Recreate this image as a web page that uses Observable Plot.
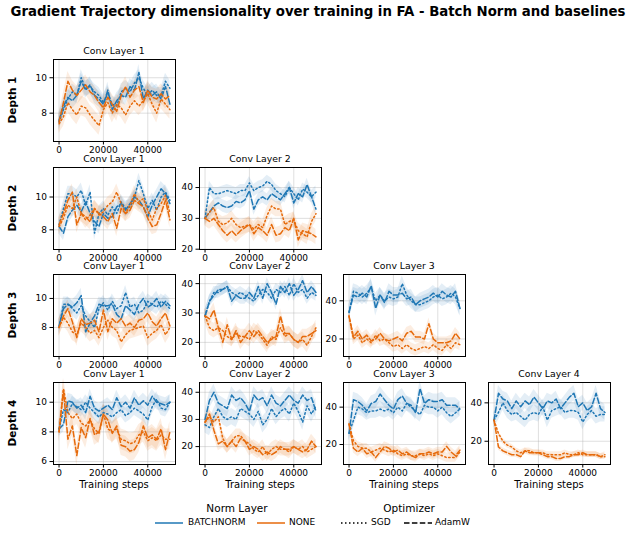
<!DOCTYPE html>
<html><head><meta charset="utf-8">
<script src="https://cdn.jsdelivr.net/npm/d3@7"></script>
<script src="https://cdn.jsdelivr.net/npm/@observablehq/plot@0.6"></script>
<style>
body{margin:0;background:#fff;font-family:"DejaVu Sans",sans-serif;}
#root{position:relative;width:636px;height:533px;overflow:hidden;}
.abs{position:absolute;white-space:nowrap;color:#000;}
.ptitle{font-size:9.3px;transform:translateX(-50%);}
.rlabel{font-size:10.5px;font-weight:bold;transform:translate(-50%,-50%) rotate(-90deg);}
</style></head>
<body><div id="root"></div>
<script>
// ---------- data ----------
const steps = [0,2000,4000,6000,8000,10000,12000,14000,16000,18000,20000,22000,24000,26000,28000,30000,32000,34000,36000,38000,40000,42000,44000,46000,48000,50000];
const normLayers = ["BATCHNORM","NONE"];
const optimizers = ["SGD","AdamW"];
const depthLabels = ["Depth 1","Depth 2","Depth 3","Depth 4"];
const layerLabels = ["Conv Layer 1","Conv Layer 2","Conv Layer 3","Conv Layer 4"];

// Depth 1 / Conv Layer 1
const d1l1_bn_sgd   = [7.5,8.2,8.8,9.2,9.0,10.0,9.4,9.5,9.2,9.0,8.6,9.1,8.5,8.4,9.2,9.4,9.2,9.7,10.0,9.4,9.0,9.3,9.0,9.0,9.8,9.4];
const d1l1_bn_adam  = [7.6,8.4,8.9,8.7,9.0,9.8,9.3,9.6,9.0,8.8,8.5,9.3,8.2,8.7,9.0,8.9,9.5,9.3,10.3,8.8,9.3,9.0,9.2,8.8,9.5,8.5];
const d1l1_no_sgd   = [7.4,7.8,8.6,8.2,7.9,8.4,8.3,7.9,7.6,7.3,8.2,8.6,8.0,8.5,8.3,7.9,8.4,8.7,8.4,8.7,9.1,8.5,8.0,8.8,8.5,8.2];
const d1l1_no_adam  = [7.5,8.6,9.8,9.3,9.0,9.3,9.6,9.2,9.0,8.6,8.3,8.9,8.5,8.1,9.0,9.5,8.9,9.3,9.5,8.6,9.3,8.9,8.8,9.1,8.8,9.0];
const d1l1_spread   = [0.45,0.45,0.55,0.55];

// Depth 2 / Conv Layer 1
const d2l1_bn_sgd   = [8.3,9.3,10.2,10.2,10.0,10.4,9.5,10.3,7.8,9.0,9.3,8.9,9.4,9.0,9.7,9.3,9.4,10.0,11.0,10.2,9.3,9.8,9.2,10.0,10.3,9.8];
const d2l1_bn_adam  = [8.2,7.8,8.8,9.2,9.5,9.1,9.7,9.0,8.5,8.2,9.0,8.7,8.8,9.4,9.6,9.2,9.6,10.0,9.8,9.4,8.8,9.5,10.0,10.5,10.2,9.6];
const d2l1_no_sgd   = [8.2,8.7,9.5,9.3,10.0,9.0,8.6,8.9,9.3,8.9,9.1,9.5,9.7,10.3,9.6,9.0,9.5,10.2,9.7,9.9,9.2,8.6,9.3,9.6,10.1,9.0];
const d2l1_no_adam  = [8.3,9.0,9.8,10.3,8.3,9.0,8.8,8.5,9.3,9.0,8.8,8.5,9.0,8.1,9.3,9.0,9.2,9.8,9.6,9.4,8.7,8.2,8.3,9.0,9.8,8.6];
const d2l1_spread   = [0.45,0.45,0.5,0.5];

// Depth 2 / Conv Layer 2
const d2l2_bn_sgd   = [30,40,38,38,38.5,39,38.5,38,39,39,41.5,39,40,40.5,42,41,39,38,37,40,38,36,39.5,38.5,37,38.5];
const d2l2_bn_adam  = [30,32,34,35,34,33.5,34,35.5,35,36,39,33,36,37,36,38,37,36,38,40,35,38,37,41,37,33];
const d2l2_no_sgd   = [30,32,33.5,29,28,28.5,30,28,27,27.5,28,26.5,28,27,31,34,33,33,28,29,29.5,26,25,24,29,31.5];
const d2l2_no_adam  = [30,29,30,28,26,24.5,26,24.5,26,27,28,25,27,26,24.5,28,24.5,25,27,26,30,23,26,25.5,25,24];
const d2l2_spread   = [2,2,2.5,2.5];

// Depth 3 / Conv Layer 1
const d3l1_bn_sgd   = [8.0,9.6,9.6,9.3,9.0,9.5,8.8,8.4,8.0,9.3,9.7,9.2,9.8,9.3,9.5,10.4,9.4,9.6,9.0,9.2,9.8,9.6,9.4,9.8,9.6,9.3];
const d3l1_bn_adam  = [8.1,9.3,9.6,9.4,9.7,10.2,7.7,8.3,8.8,9.6,9.5,9.5,9.6,8.9,8.6,9.5,9.2,8.9,9.6,10.0,9.4,9.6,10.0,9.4,9.8,9.5];
const d3l1_no_sgd   = [8.0,8.7,8.3,7.7,7.5,8.3,8.0,7.6,7.8,7.3,8.0,8.5,8.0,7.8,7.0,7.5,7.8,7.9,8.0,8.1,7.3,7.6,7.8,8.2,7.5,8.0];
const d3l1_no_adam  = [8.0,8.8,9.3,8.4,7.3,8.6,8.2,8.3,8.5,7.7,9.2,7.7,8.6,8.3,8.6,8.1,8.3,8.0,8.5,8.6,9.0,8.4,8.1,8.6,9.0,8.1];
const d3l1_spread   = [0.5,0.5,0.6,0.6];

// Depth 3 / Conv Layer 2
const d3l2_bn_sgd   = [29,34,37,37,38,39,37,36,37,36,35,34,36,38,37,35,38,37,39,36,40,37,38,35,37,36];
const d3l2_bn_adam  = [29,34,36,38,38,39,34,36,35,35,37,35,39,35,40,37,33,39,37,40,36,38,41,37,39,37];
const d3l2_no_sgd   = [29,25,24,25,24,22,21,23,22,22,21,24,23,21,19,22,21,25,22,23,21,20,21,19,22,25];
const d3l2_no_adam  = [29,28,31,25,20,26,21,24,20,22,24,22,24,22,20,21,22,29,23,23,21,20,22,22,23,24];
const d3l2_spread   = [2,2,2.5,2.5];

// Depth 3 / Conv Layer 3
const d3l3_bn_sgd   = [34,45,44,42,44,47,40,43,40,42,41,42,49,43,40,38,38,39,40,42,43,41,42,44,42,36];
const d3l3_bn_adam  = [34,43,42,44,42,48,36,43,39,45,43,43,44,41,42,38,40,41,42,44,42,45,43,42,45,36];
const d3l3_no_sgd   = [32,20,22,18,20,18,22,19,20,18,16,17,15,17,15,14,15,16,15,17,15,14,17,15,18,17];
const d3l3_no_adam  = [32,21,24,20,22,19,20,23,20,19,20,21,19,23,24,21,21,20,28,20,18,18,18,19,23,20];
const d3l3_spread   = [4,4,3,3];

// Depth 4 / Conv Layer 1
const d4l1_bn_sgd   = [8.2,9.5,9.3,9.9,9.7,9.5,10.0,9.6,9.3,9.0,9.3,9.2,9.0,9.3,9.5,9.1,9.3,9.6,9.4,9.2,8.8,9.7,10.2,9.6,9.5,10.0];
const d4l1_bn_adam  = [8.2,8.5,10.1,10.0,9.6,9.8,9.3,10.4,9.6,9.4,9.6,9.8,9.5,10.3,9.7,10.0,9.6,10.3,9.8,10.1,9.8,10.4,10.0,9.9,9.8,10.0];
const d4l1_no_sgd   = [8.0,10.9,9.3,8.9,9.2,8.6,8.4,8.8,8.2,7.9,9.2,8.2,8.0,8.2,7.5,7.4,7.2,7.3,7.8,8.0,7.4,7.6,7.4,7.8,7.5,7.5];
const d4l1_no_adam  = [8.0,10.8,7.5,8.4,6.4,8.3,7.6,8.9,7.8,8.0,9.2,8.8,7.9,8.4,7.1,7.0,6.7,6.8,7.3,8.4,7.6,7.8,7.5,8.2,6.8,8.0];
const d4l1_spread   = [0.5,0.5,0.7,0.7];

// Depth 4 / Conv Layer 2
const d4l2_bn_sgd   = [28,27,31,34,31,30,31,30,34,33,32,30,33,28,30,34,31,33,34,32,36,33,29,35,32,35];
const d4l2_bn_adam  = [30,37,40,36,35,34,39,37,38,36,33,39,37,38,35,39,36,35,37,39,37,36,39,37,38,33];
const d4l2_no_sgd   = [29,31,29,31,23,20,22,24,24,22,21,19,18,20,17,19,20,19,19,18,20,19,20,18,19,20];
const d4l2_no_adam  = [29,32,26,21,22,20,22,20,23,22,19,20,19,17,18,17,18,20,19,19,20,19,18,19,22,20];
const d4l2_spread   = [3,3,2.5,2.5];

// Depth 4 / Conv Layer 3
const d4l3_bn_sgd   = [26,33,40,39,37,38,38,39,38,39,37,40,38,42,40,38,36,41,40,40,38,40,37,35,37,39];
const d4l3_bn_adam  = [26,44,43,41,38,42,43,47,44,41,39,44,46,42,41,37,50,42,44,43,43,44,41,41,41,39];
const d4l3_no_sgd   = [31,22,19,18,18,16,17,18,17,16,17,15,14,15,14,14,15,14,15,14,15,14,13,13,13,16];
const d4l3_no_adam  = [31,18,16,18,15,16,13,16,19,18,16,17,15,16,14,13,15,15,16,15,16,16,19,16,14,17];
const d4l3_spread   = [4,4,2.5,2.5];

// Depth 4 / Conv Layer 4
const d4l4_bn_sgd   = [31,35,40,36,34,35,33,31,34,35,34,38,31,36,37,38,35,36,36,35,30,34,36,33,34,34];
const d4l4_bn_adam  = [31,45,42,41,37,41,38,41,39,43,40,37,41,40,42,37,40,43,45,38,40,36,38,45,37,35];
const d4l4_no_sgd   = [31,24,20,18,17,15,14,15,15,14,14,14,13,13,13,13,14,13,13,14,13,13,13,13,12,13];
const d4l4_no_adam  = [31,17,15,14,13,13,12,15,14,14,14,13,12,12,11,11,12,12,13,13,14,13,13,13,12,12];
const d4l4_spread   = [4,4,1.5,1.5];

// ---------- layout ----------
const colors = {BATCHNORM:"#1f77b4", NONE:"#e66a0b"};
const dashes = {SGD:"1.5,2.5", AdamW:"5.5,2.4"};
const colLeft = [53,199,343,488];
const rowTop = [59,167,274,382];
const FW = 122, FH = 82;
const ML = 30, MR = 4, MT = 4, MB = 22;

const panels = [
  {r:0,c:0,series:[d1l1_bn_sgd,d1l1_bn_adam,d1l1_no_sgd,d1l1_no_adam],spread:d1l1_spread,dom:[6.4,11.03],ticks:[8,10]},
  {r:1,c:0,series:[d2l1_bn_sgd,d2l1_bn_adam,d2l1_no_sgd,d2l1_no_adam],spread:d2l1_spread,dom:[6.8,11.8],ticks:[8,10]},
  {r:1,c:1,series:[d2l2_bn_sgd,d2l2_bn_adam,d2l2_no_sgd,d2l2_no_adam],spread:d2l2_spread,dom:[19.9,46.5],ticks:[20,30,40]},
  {r:2,c:0,series:[d3l1_bn_sgd,d3l1_bn_adam,d3l1_no_sgd,d3l1_no_adam],spread:d3l1_spread,dom:[6.0,11.65],ticks:[8,10]},
  {r:2,c:1,series:[d3l2_bn_sgd,d3l2_bn_adam,d3l2_no_sgd,d3l2_no_adam],spread:d3l2_spread,dom:[15.2,43.1],ticks:[20,30,40]},
  {r:2,c:2,series:[d3l3_bn_sgd,d3l3_bn_adam,d3l3_no_sgd,d3l3_no_adam],spread:d3l3_spread,dom:[10.8,53.8],ticks:[20,40]},
  {r:3,c:0,series:[d4l1_bn_sgd,d4l1_bn_adam,d4l1_no_sgd,d4l1_no_adam],spread:d4l1_spread,dom:[5.8,11.33],ticks:[6,8,10]},
  {r:3,c:1,series:[d4l2_bn_sgd,d4l2_bn_adam,d4l2_no_sgd,d4l2_no_adam],spread:d4l2_spread,dom:[13.4,43.6],ticks:[20,30,40]},
  {r:3,c:2,series:[d4l3_bn_sgd,d4l3_bn_adam,d4l3_no_sgd,d4l3_no_adam],spread:d4l3_spread,dom:[9.3,53.2],ticks:[20,40]},
  {r:3,c:3,series:[d4l4_bn_sgd,d4l4_bn_adam,d4l4_no_sgd,d4l4_no_adam],spread:d4l4_spread,dom:[7.9,50.6],ticks:[20,40]},
];
const keys = [["BATCHNORM","SGD"],["BATCHNORM","AdamW"],["NONE","SGD"],["NONE","AdamW"]];

const root = document.getElementById("root");
function addText(txt, x, y, cls, style){
  const d = document.createElement("div");
  d.className = "abs " + (cls||"");
  d.textContent = txt;
  d.style.left = x+"px"; d.style.top = y+"px";
  if (style) Object.assign(d.style, style);
  root.appendChild(d);
  return d;
}

// title
addText("Gradient Trajectory dimensionality over training in FA - Batch Norm and baselines", 318, 4, "", {fontSize:"13.3px",fontWeight:"bold",transform:"translateX(-50%)"});

for (const p of panels){
  const rows = [];
  p.series.forEach((arr,i)=>{
    const [norm,opt] = keys[i];
    arr.forEach((v,j)=>rows.push({x:steps[j], y:v, lo:v-p.spread[i], hi:v+p.spread[i], norm, opt}));
  });
  const marks = [
    Plot.gridX([0,20000,40000], {stroke:"#b0b0b0", strokeOpacity:0.5, strokeWidth:0.8}),
    Plot.gridY(p.ticks, {stroke:"#b0b0b0", strokeOpacity:0.5, strokeWidth:0.8}),
  ];
  for (const [norm,opt] of keys){
    const sub = rows.filter(d=>d.norm===norm && d.opt===opt);
    marks.push(Plot.areaY(sub, {x:"x", y1:"lo", y2:"hi", fill:colors[norm], fillOpacity:0.12}));
  }
  for (const [norm,opt] of keys){
    const sub = rows.filter(d=>d.norm===norm && d.opt===opt);
    marks.push(Plot.lineY(sub, {x:"x", y:"y", stroke:colors[norm], strokeWidth:1.5, strokeDasharray:dashes[opt]}));
  }
  marks.push(Plot.axisX({ticks:[0,20000,40000], tickFormat:d3.format("d"), tickSize:3.5, tickPadding:2, label:null, fontSize:9}));
  marks.push(Plot.axisY({ticks:p.ticks, tickFormat:d3.format("d"), tickSize:3.5, tickPadding:3, label:null, fontSize:9}));
  marks.push(Plot.frame({stroke:"#000", strokeWidth:1}));
  const svg = Plot.plot({
    width: FW+ML+MR, height: FH+MT+MB,
    marginLeft: ML, marginRight: MR, marginTop: MT, marginBottom: MB,
    x:{domain:[-2500,52500]},
    y:{domain:p.dom},
    style:{fontFamily:"DejaVu Sans", fontSize:"9px", color:"#000", background:"transparent", overflow:"visible"},
    marks
  });
  svg.style.position = "absolute";
  svg.style.left = (colLeft[p.c]-ML)+"px";
  svg.style.top = (rowTop[p.r]-MT)+"px";
  root.appendChild(svg);
  addText(layerLabels[p.c], colLeft[p.c]+FW/2, rowTop[p.r]-14, "ptitle");
  if (p.r===3) addText("Training steps", colLeft[p.c]+FW/2, rowTop[p.r]+FH+15, "", {fontSize:"10px",transform:"translateX(-50%)"});
}
for (let r=0;r<4;r++) addText(depthLabels[r], 12, rowTop[r]+FH/2, "rlabel");

// legend
function legendLine(x, y, color, dash){
  const ns = "http://www.w3.org/2000/svg";
  const s = document.createElementNS(ns,"svg");
  s.setAttribute("width",28); s.setAttribute("height",6);
  s.style.position="absolute"; s.style.left=x+"px"; s.style.top=(y-3)+"px";
  const l = document.createElementNS(ns,"line");
  l.setAttribute("x1",0); l.setAttribute("x2",28); l.setAttribute("y1",3); l.setAttribute("y2",3);
  l.setAttribute("stroke",color); l.setAttribute("stroke-width",1.5);
  if (dash) l.setAttribute("stroke-dasharray",dash);
  s.appendChild(l); root.appendChild(s);
}
addText("Norm Layer", 237, 502, "", {fontSize:"10.5px",transform:"translateX(-50%)"});
addText("Optimizer", 409, 502, "", {fontSize:"10.5px",transform:"translateX(-50%)"});
legendLine(155, 523, colors.BATCHNORM);
addText(normLayers[0], 188, 517, "", {fontSize:"9px"});
legendLine(257, 523, colors.NONE);
addText(normLayers[1], 289, 517, "", {fontSize:"9px"});
legendLine(341, 523, "#000", dashes.SGD);
addText(optimizers[0], 371, 517, "", {fontSize:"9px"});
legendLine(404, 523, "#000", dashes.AdamW);
addText(optimizers[1], 435, 517, "", {fontSize:"9px"});
</script></body></html>
